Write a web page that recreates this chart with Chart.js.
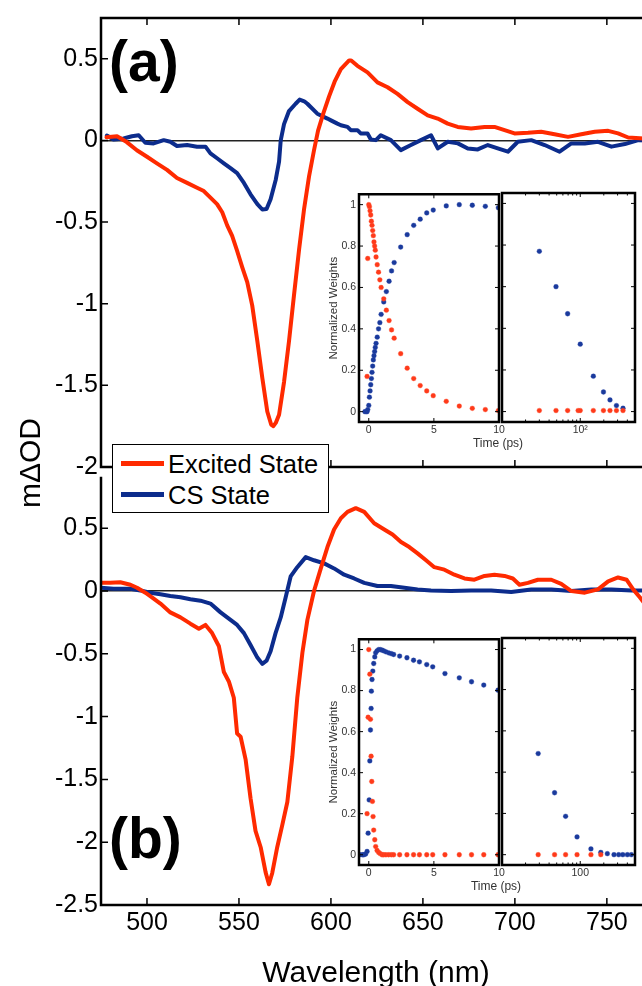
<!DOCTYPE html>
<html>
<head>
<meta charset="utf-8">
<script src="https://cdn.jsdelivr.net/npm/chart.js@4.4.1/dist/chart.umd.min.js"></script>
<style>
  html, body { margin: 0; padding: 0; overflow: hidden; background: #fff; }
  #page { position: relative; width: 642px; height: 986px; overflow: hidden;
          font-family: 'Liberation Sans', Arial, Helvetica, sans-serif; }
  canvas { position: absolute; }
  .txt { position: absolute; white-space: nowrap; color: #000; }
  .panel { font-weight: bold; font-size: 57px; line-height: 57px; }
  .ins { font-size: 12px; line-height: 12px; width: 100px; text-align: center; color: #333; }
  #ylab { font-size: 30px; line-height: 30px; width: 200px; text-align: center;
          left: -70px; top: 448px; transform: rotate(-90deg); }
  #legend { position: absolute; left: 112px; top: 444px; width: 217px; height: 69px;
            box-sizing: border-box; border: 1.5px solid #000; background: #fff; }
  #legend .ln { position: absolute; left: 8px; width: 43px; height: 5px; }
  #legend .lt { position: absolute; left: 55px; font-size: 25.5px; line-height: 26px; }
</style>
</head>
<body>
<div id="page">
  <canvas id="mainA" width="660" height="490" style="left:0;top:0"></canvas>
  <canvas id="mainB" width="660" height="535" style="left:0;top:460px"></canvas>
  <canvas id="insA1" width="188" height="255" style="left:322px;top:185px"></canvas>
  <canvas id="insA2" width="145" height="255" style="left:497px;top:185px"></canvas>
  <canvas id="insB1" width="188" height="253" style="left:322px;top:630px"></canvas>
  <canvas id="insB2" width="145" height="253" style="left:497px;top:630px"></canvas>

  <div class="txt panel" style="left:109px;top:33px">(a)</div>
  <div class="txt panel" style="left:109px;top:810px">(b)</div>
  <div class="txt" id="ylab">mΔOD</div>
  <div class="txt ins" style="left:448px;top:437px">Time (ps)</div>
  <div class="txt ins" style="left:446px;top:880px">Time (ps)</div>
  <div id="legend">
    <div class="ln" style="top:16px;background:#ff2a00"></div>
    <div class="txt lt" style="top:6px">Excited State</div>
    <div class="ln" style="top:47px;background:#0c2c8c"></div>
    <div class="txt lt" style="top:37px">CS State</div>
  </div>
</div>
<script>
// ---- data: panel (a) spectra ----
const aRedNm = [478, 483.7, 489, 494.5, 500, 505.4, 510.9, 516.3, 521.8, 527.2, 530.9, 534.5, 538.1, 540.9, 543.6,
  546.3, 549, 551.8, 554.5, 557.2, 560, 562.7, 565.4, 567.5, 568.7, 570, 571.8, 574.5, 577.2, 579.9, 582.7, 585.4,
  588.1, 590.8, 593, 596, 599, 602, 605.4, 609.9, 611, 614.4, 619.9, 625.3, 630.8, 636.2, 641.7, 647.1, 652.6, 658,
  663.5, 668.9, 676.2, 683.5, 688.9, 694.4, 699.8, 707.1, 714.3, 721.6, 728.9, 736.1, 743.4, 750.7, 756.1, 761.6, 770, 775];
const aRedOD = [0.02, 0.026, -0.01, -0.06, -0.10, -0.14, -0.18, -0.23, -0.26, -0.29, -0.31, -0.35, -0.39, -0.44, -0.52,
  -0.585, -0.676, -0.777, -0.868, -1.01, -1.23, -1.455, -1.66, -1.74, -1.75, -1.73, -1.68, -1.48, -1.23, -0.95, -0.666, -0.42,
  -0.22, -0.06, 0.06, 0.17, 0.27, 0.36, 0.437, 0.49, 0.49, 0.457, 0.417, 0.356, 0.326, 0.285, 0.235, 0.194, 0.154, 0.134,
  0.103, 0.083, 0.073, 0.083, 0.083, 0.063, 0.043, 0.047, 0.053, 0.038, 0.022, 0.038, 0.053, 0.059, 0.043, 0.018, 0.012, 0.01];
const aBlueNm = [478.2, 481.8, 487.3, 491.8, 495.5, 499.1, 503.6, 509.1, 512.7, 516.3, 521.8, 527.2, 531.8, 534.5, 538.1,
  541.8, 545.4, 549, 552.7, 556.3, 560, 562.7, 565, 567.2, 570, 571.8, 572.7, 574.5, 577.2, 580.8, 583, 585.5, 587.2,
  592.6, 598.1, 600, 603.5, 605.4, 609, 610.8, 614.4, 616.2, 619.9, 621.7, 624.4, 627.1, 632.6, 638, 643.5, 648.9, 654.4,
  658.1, 663.5, 669, 674.4, 679.8, 685.3, 690.7, 696.2, 701.6, 708.9, 716.2, 724.3, 730.7, 738, 745.2, 752.5, 759.8, 767.1, 775];
const aBlueOD = [0.03, 0.006, 0.012, 0.026, 0.032, -0.014, -0.018, 0.002, -0.008, -0.034, -0.028, -0.038, -0.038, -0.079, -0.109,
  -0.14, -0.17, -0.2, -0.26, -0.33, -0.39, -0.423, -0.42, -0.36, -0.24, -0.13, 0.0, 0.1, 0.18, 0.225, 0.25, 0.24, 0.225,
  0.164, 0.134, 0.123, 0.103, 0.093, 0.083, 0.063, 0.063, 0.043, 0.043, 0.006, 0.002, 0.032, 0.002, -0.059, -0.028, 0.002, 0.032,
  -0.049, -0.008, -0.018, -0.049, -0.055, -0.028, -0.049, -0.069, -0.008, 0.002, -0.028, -0.069, -0.018, -0.018, -0.008, -0.038, -0.022, 0.002, 0.0];

// ---- data: panel (b) spectra ----
const bRedNm = [474.9, 480, 485.5, 491, 494.6, 499.1, 502.7, 507.3, 512.7, 518.2, 523.6, 528.2, 531.8, 535.4, 539.1, 541.8,
  544.5, 547.2, 549, 550.9, 553.6, 556.3, 559, 561.8, 564.5, 566.3, 568.1, 570.8, 573.6, 576.3, 579, 581.7, 584.5, 587.2,
  590.8, 594.5, 598.1, 601.7, 605.4, 609, 613.5, 618.1, 623.5, 629, 633.5, 638.1, 642.6, 647.1, 651.7, 656.2, 661.7, 667.1,
  672.6, 678, 683.5, 688.9, 694.4, 698.9, 702.5, 707.1, 712.5, 719.8, 725.2, 730.7, 738, 745.2, 750.7, 756.1, 760.7, 764.3, 767.9, 770, 775];
const bRedOD = [0.065, 0.065, 0.07, 0.05, 0.026, -0.013, -0.05, -0.10, -0.17, -0.21, -0.26, -0.30, -0.27, -0.335, -0.44, -0.645,
  -0.72, -0.85, -1.135, -1.16, -1.34, -1.65, -1.91, -2.04, -2.24, -2.335, -2.245, -2.04, -1.86, -1.68, -1.32, -0.85, -0.49, -0.23,
  0.0, 0.18, 0.35, 0.49, 0.58, 0.63, 0.66, 0.63, 0.54, 0.49, 0.45, 0.39, 0.35, 0.30, 0.245, 0.19, 0.17, 0.13,
  0.10, 0.09, 0.12, 0.13, 0.12, 0.10, 0.05, 0.065, 0.09, 0.09, 0.057, 0.0, -0.013, 0.013, 0.077, 0.108, 0.09, 0.013, -0.05, -0.09, -0.2];
const bBlueNm = [474.9, 481.8, 490.9, 496.4, 501.8, 507.3, 512.7, 518.2, 523.6, 529.1, 534.5, 540, 545.4, 549, 552.7, 556.3,
  560, 562.7, 565, 567.2, 569.9, 572.7, 575.4, 578.1, 581.7, 586.3, 590.8, 596.3, 601.7, 607.2, 612.6, 618.1, 625.3, 632.6,
  639.9, 647.1, 654.4, 665.3, 676.2, 687.1, 698, 708.9, 719.8, 730.7, 741.6, 752.5, 763.4, 775];
const bBlueOD = [0.026, 0.018, 0.018, 0.005, -0.013, -0.026, -0.039, -0.05, -0.065, -0.077, -0.10, -0.17, -0.23, -0.27, -0.335, -0.43,
  -0.53, -0.58, -0.555, -0.48, -0.335, -0.21, -0.05, 0.116, 0.19, 0.27, 0.245, 0.22, 0.18, 0.13, 0.10, 0.065, 0.04, 0.04,
  0.026, 0.013, 0.005, 0, 0.005, 0.005, -0.008, 0.013, 0.013, 0, 0.013, 0.013, 0.005, 0.005];

// ---- data: inset (a) normalized weights ----
const aEsTime = [-0.13, -0.08, 0, 0.05, 0.1, 0.15, 0.2, 0.25, 0.3, 0.35, 0.4, 0.45, 0.5, 0.56, 0.65, 0.75, 0.85, 0.95,
  1.15, 1.35, 1.56, 1.75, 1.95, 2.45, 2.95, 3.45, 3.95, 4.45, 4.95, 5.95, 6.95, 7.95, 8.95, 9.95,
  30, 49, 69, 94, 100, 147, 198, 240, 290, 352];
const aEsWeight = [0.17, 0.74, 1.0, 0.99, 0.97, 0.95, 0.92, 0.90, 0.875, 0.85, 0.82, 0.80, 0.78, 0.747, 0.71, 0.674, 0.637, 0.60,
  0.545, 0.49, 0.44, 0.395, 0.355, 0.28, 0.21, 0.16, 0.126, 0.10, 0.077, 0.05, 0.027, 0.016, 0.01, 0.005,
  0.005, 0.005, 0.005, 0.005, 0.005, 0.005, 0.005, 0.005, 0.005, 0.005];
const aCsTime = [-0.3, -0.2, -0.13, -0.08, 0, 0.05, 0.1, 0.15, 0.2, 0.25, 0.3, 0.35, 0.4, 0.45, 0.5, 0.56, 0.65, 0.75, 0.85, 0.95,
  1.15, 1.35, 1.56, 1.75, 1.95, 2.45, 2.95, 3.45, 3.95, 4.45, 4.95, 5.95, 6.95, 7.95, 8.95, 9.95,
  30, 49, 69, 100, 147, 198, 240, 290, 352];
const aCsWeight = [0, 0, 0, 0.01, 0.03, 0.07, 0.1, 0.13, 0.16, 0.19, 0.22, 0.25, 0.27, 0.29, 0.31, 0.33, 0.36, 0.40, 0.43, 0.47,
  0.53, 0.58, 0.63, 0.68, 0.72, 0.795, 0.855, 0.90, 0.93, 0.96, 0.974, 0.994, 1.0, 0.997, 0.992, 0.985,
  0.77, 0.60, 0.47, 0.324, 0.17, 0.094, 0.056, 0.029, 0.016];

// ---- data: inset (b) normalized weights ----
const bEsTime = [-0.13, -0.05, 0, 0.08, 0.13, 0.18, 0.23, 0.28, 0.33, 0.38, 0.46, 0.53, 0.64, 0.76, 0.89,
  1.02, 1.15, 1.32, 1.53, 1.73, 1.91, 2.37, 2.93, 3.44, 3.89, 4.45, 4.91, 5.85, 6.95, 7.89, 8.83, 9.92,
  29, 47, 65, 91, 137, 183];
const bEsWeight = [0.2, 0.67, 1.0, 0.88, 0.66, 0.48, 0.357, 0.26, 0.186, 0.12, 0.073, 0.04, 0.021, 0.011, 0.005,
  0, 0, 0, 0, 0, 0, 0, 0, 0, 0, 0, 0, 0, 0, 0, 0, 0,
  0, 0, 0, 0, 0, 0];
const bCsTime = [-0.69, -0.5, -0.38, -0.25, -0.13, -0.05, 0.03, 0.08, 0.13, 0.18, 0.2, 0.25, 0.31, 0.38, 0.46, 0.53,
  0.64, 0.76, 0.89, 1.02, 1.15, 1.32, 1.53, 1.73, 1.91, 2.37, 2.93, 3.44, 3.89, 4.45, 4.91, 5.85, 6.95, 7.89, 8.83, 9.92,
  29, 47, 65, 91, 137, 183, 222, 270, 310, 350, 400, 450];
const bCsWeight = [0, 0, 0, 0.003, 0.016, 0.105, 0.267, 0.457, 0.608, 0.713, 0.797, 0.854, 0.895, 0.932, 0.964, 0.984,
  0.994, 1.0, 1.0, 0.997, 0.994, 0.989, 0.984, 0.98, 0.976, 0.968, 0.96, 0.948, 0.94, 0.927, 0.916, 0.883, 0.862, 0.843, 0.827, 0.802,
  0.49, 0.30, 0.186, 0.086, 0.028, 0.011, 0.005, 0, 0, 0, 0, 0];

// ---- tick labels ----
const wlTicks = [500, 550, 600, 650, 700, 750];
const odTicksA = [-2, -1.5, -1, -0.5, 0, 0.5];
const odTicksB = [-2.5, -2, -1.5, -1, -0.5, 0, 0.5];
const weightTicks = [0, 0.2, 0.4, 0.6, 0.8, 1];
const earlyTicks = [0, 5, 10];
const lateTicks = [20, 30, 40, 50, 60, 70, 80, 90, 100, 200, 300, 400, 500];

const RED = '#ff2a00';
const BLUE = '#0c2c8c';
const FONT = "'Liberation Sans', Arial, Helvetica, sans-serif";
Chart.defaults.font.family = FONT;
Chart.defaults.color = '#000';

const pts = (xs, ys) => xs.map((x, i) => ({ x: x, y: ys[i] }));
const fmt = v => String(Math.round(v * 10) / 10);
const setTicks = list => s => { s.ticks = list.map(v => ({ value: v })); };

// frame box and inward (MATLAB style) tick marks
const inTicks = {
  id: 'inTicks',
  afterDatasetsDraw(chart, args, o) {
    const { ctx, chartArea: a } = chart;
    const xs = chart.scales.x, ys = chart.scales.y;
    ctx.save();
    ctx.strokeStyle = '#000';
    ctx.lineWidth = o.tickWidth;
    ctx.beginPath();
    (o.xTicks || []).forEach(v => {
      const px = xs.getPixelForValue(v);
      if (px < a.left || px > a.right) return;
      const len = (o.majorX && !o.majorX.includes(v)) ? o.minorLen : o.len;
      if (o.sides.includes('t')) { ctx.moveTo(px, a.top); ctx.lineTo(px, a.top + len); }
      if (o.sides.includes('b')) { ctx.moveTo(px, a.bottom); ctx.lineTo(px, a.bottom - len); }
    });
    (o.yTicks || []).forEach(v => {
      const py = ys.getPixelForValue(v);
      if (o.sides.includes('l')) { ctx.moveTo(a.left, py); ctx.lineTo(a.left + o.len, py); }
      if (o.sides.includes('r')) { ctx.moveTo(a.right, py); ctx.lineTo(a.right - o.len, py); }
    });
    ctx.stroke();
    ctx.lineWidth = o.frameWidth;
    ctx.lineCap = 'square';
    ctx.beginPath();
    if (o.frame.includes('t')) { ctx.moveTo(a.left, a.top); ctx.lineTo(a.right, a.top); }
    if (o.frame.includes('b')) { ctx.moveTo(a.left, a.bottom); ctx.lineTo(a.right, a.bottom); }
    if (o.frame.includes('l')) { ctx.moveTo(a.left, a.top); ctx.lineTo(a.left, a.bottom); }
    if (o.frame.includes('r')) { ctx.moveTo(a.right, a.top); ctx.lineTo(a.right, a.bottom); }
    ctx.stroke();
    ctx.restore();
  }
};

function mainChart(id, red, blue, yMin, yMax, yTicks, withX, padding, frame, sides) {
  return new Chart(document.getElementById(id), {
    type: 'line',
    data: {
      datasets: [
        { label: 'Excited State', data: red, borderColor: RED, borderWidth: 4, pointRadius: 0, tension: 0,
          borderJoinStyle: 'round', borderCapStyle: 'round' },
        { label: 'CS State', data: blue, borderColor: BLUE, borderWidth: 4, pointRadius: 0, tension: 0,
          borderJoinStyle: 'round', borderCapStyle: 'round' }
      ]
    },
    options: {
      responsive: false,
      animation: false,
      events: [],
      layout: { padding: padding },
      plugins: {
        legend: { display: false },
        tooltip: { enabled: false },
        inTicks: { xTicks: wlTicks, yTicks: yTicks, len: 7, tickWidth: 1.5, frameWidth: 2.5, frame: frame, sides: sides }
      },
      scales: {
        x: {
          type: 'linear', min: 475, max: 774, display: withX,
          afterBuildTicks: setTicks(wlTicks),
          afterFit: s => { if (withX) s.height = 90; },
          grid: { display: false, drawTicks: false },
          border: { display: false },
          ticks: { padding: 3, maxRotation: 0, autoSkip: false, font: { size: 25 }, color: '#000' },
          title: { display: true, text: 'Wavelength (nm)', font: { size: 30 }, color: '#000', padding: { top: 0, bottom: 3 } }
        },
        y: {
          min: yMin, max: yMax,
          afterBuildTicks: setTicks(yTicks),
          afterFit: s => { s.width = 101; },
          border: { display: false },
          grid: { drawTicks: false, lineWidth: 1.5,
                  color: c => (c.tick && c.tick.value === 0) ? '#222' : 'rgba(0,0,0,0)' },
          ticks: { padding: 3, font: { size: 25 }, color: '#000', callback: v => fmt(v) }
        }
      }
    },
    plugins: [inTicks]
  });
}

mainChart('mainA', pts(aRedNm, aRedOD), pts(aBlueNm, aBlueOD), -2, 0.75, odTicksA, false,
  { top: 14, right: 9, bottom: 23, left: 0 }, 'ltb', 'tbl');
mainChart('mainB', pts(bRedNm, bRedOD), pts(bBlueNm, bBlueOD), -2.5, 0.9, odTicksB, true,
  { top: 7, right: 9, bottom: 0, left: 0 }, 'lb', 'bl');

function insetChart(id, late, es, cs, padding, lateLabel) {
  const tickFont = { size: 10.5 };
  const x = late
    ? { type: 'logarithmic', min: 10, max: 501,
        afterBuildTicks: setTicks([100]),
        ticks: { callback: () => lateLabel, font: tickFont, color: '#333', padding: 2, maxRotation: 0, autoSkip: false } }
    : { type: 'linear', min: -0.75, max: 10,
        afterBuildTicks: setTicks(earlyTicks),
        ticks: { callback: v => String(v), font: tickFont, color: '#333', padding: 2, maxRotation: 0, autoSkip: false } };
  x.afterFit = s => { s.height = 18; };
  x.grid = { display: false, drawTicks: false };
  x.border = { display: false };
  const y = {
    min: -0.05, max: 1.05, display: !late,
    afterBuildTicks: setTicks(weightTicks),
    afterFit: s => { if (!late) s.width = 37; },
    grid: { display: false, drawTicks: false },
    border: { display: false },
    ticks: { font: tickFont, color: '#333', padding: 3, callback: v => fmt(v) },
    title: { display: true, text: 'Normalized Weights', font: { size: 11.5 }, color: '#333', padding: { top: 5, bottom: 0 } }
  };
  const keep = t => late ? t >= 10 : t <= 10;
  const sel = (ts, ws) => ts.map((t, i) => ({ x: t, y: ws[i] })).filter(p => keep(p.x));
  return new Chart(document.getElementById(id), {
    type: 'scatter',
    data: {
      datasets: [
        { label: 'Excited State', data: sel(es[0], es[1]), pointRadius: 2.4, pointBorderWidth: 1,
          pointBackgroundColor: '#ff3a1a', pointBorderColor: 'rgba(255,80,50,0.35)' },
        { label: 'CS State', data: sel(cs[0], cs[1]), pointRadius: 2.4, pointBorderWidth: 1,
          pointBackgroundColor: '#1a3a9c', pointBorderColor: 'rgba(40,70,170,0.35)' }
      ]
    },
    options: {
      responsive: false,
      animation: false,
      events: [],
      layout: { padding: padding },
      plugins: {
        legend: { display: false },
        tooltip: { enabled: false },
        inTicks: { xTicks: late ? lateTicks : earlyTicks, majorX: late ? [100] : null, yTicks: weightTicks,
                   len: 4, minorLen: 2.5, tickWidth: 1, frameWidth: 2.5, frame: 'tblr', sides: 'tblr' }
      },
      scales: { x: x, y: y }
    },
    plugins: [inTicks]
  });
}

insetChart('insA1', false, [aEsTime, aEsWeight], [aCsTime, aCsWeight], { top: 8, right: 11, bottom: 0, left: 0 });
insetChart('insA2', true, [aEsTime, aEsWeight], [aCsTime, aCsWeight], { top: 8, right: 7, bottom: 0, left: 2 }, '10²');
insetChart('insB1', false, [bEsTime, bEsWeight], [bCsTime, bCsWeight], { top: 8, right: 11, bottom: 0, left: 0 });
insetChart('insB2', true, [bEsTime, bEsWeight], [bCsTime, bCsWeight], { top: 8, right: 7, bottom: 0, left: 2 }, '100');
</script>
</body>
</html>
